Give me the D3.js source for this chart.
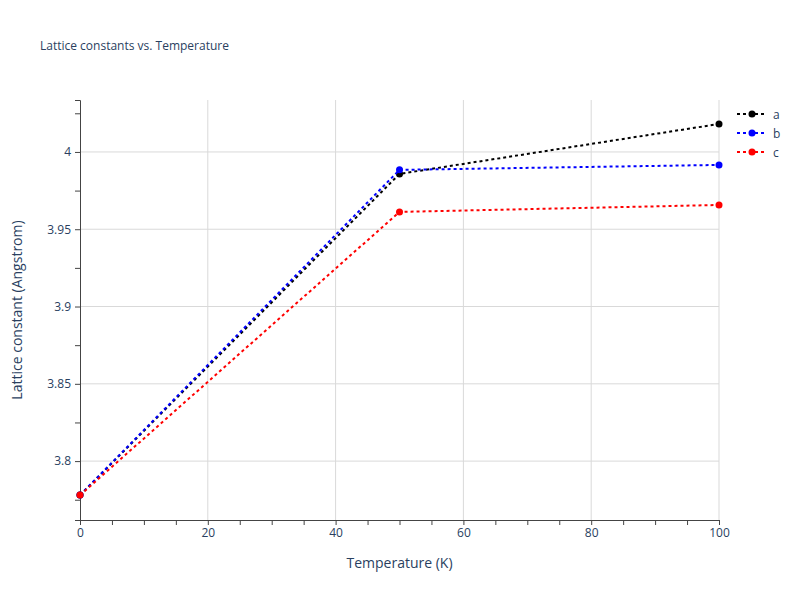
<!DOCTYPE html>
<html>
<head>
<meta charset="utf-8">
<script src="https://cdn.jsdelivr.net/npm/d3@7"></script>
<style>
body { margin: 0; background: #fff; font-family: "Open Sans", sans-serif; }
</style>
</head>
<body>
<div id="chart"></div>
<script>
// data
var temperatures = [0, 50, 100];
var seriesNames = ['a', 'b', 'c'];
var seriesColors = ['black', 'blue', 'red'];
var aValues = [3.778, 3.9858, 4.0181];
var bValues = [3.778, 3.9884, 3.9916];
var cValues = [3.778, 3.9612, 3.9657];
var xTicks = [0, 20, 40, 60, 80, 100];
var yTicks = [3.8, 3.85, 3.9, 3.95, 4];

var allValues = [aValues, bValues, cValues];
var width = 800, height = 600;
var margin = {left: 80, right: 81, top: 100, bottom: 80};
var textColor = '#2a3f5f';

var svg = d3.select('#chart').append('svg')
    .attr('width', width)
    .attr('height', height);

var x = d3.scaleLinear().domain([0, 100]).range([margin.left, width - margin.right]);
var y = d3.scaleLinear().domain([3.7619, 4.0336]).range([height - margin.bottom, margin.top]);

// grid lines
svg.append('g').selectAll('line').data(xTicks.slice(1)).enter().append('line')
    .attr('x1', function (d) { return x(d); }).attr('x2', function (d) { return x(d); })
    .attr('y1', margin.top).attr('y2', height - margin.bottom)
    .attr('stroke', '#d9d9d9');
svg.append('g').selectAll('line').data(yTicks).enter().append('line')
    .attr('x1', margin.left).attr('x2', width - margin.right)
    .attr('y1', function (d) { return y(d); }).attr('y2', function (d) { return y(d); })
    .attr('stroke', '#d9d9d9');

// axes
var xAxis = svg.append('g')
    .attr('transform', 'translate(0,' + (height - margin.bottom) + ')')
    .call(d3.axisBottom(x).tickValues(d3.range(0, 101, 5)).tickSize(5).tickFormat(function (d) { return xTicks.indexOf(d) >= 0 ? d : ''; }));
xAxis.select('.domain').attr('stroke', '#444');
xAxis.selectAll('line').attr('stroke', '#444');
xAxis.selectAll('text').attr('fill', textColor).attr('font-size', 12).attr('font-family', 'Open Sans');

var yAxis = svg.append('g')
    .attr('transform', 'translate(' + margin.left + ',0)')
    .call(d3.axisLeft(y).tickValues(d3.range(3.775, 4.03, 0.025)).tickSize(5).tickFormat(function (d) {
        var r = Math.round(d * 1000) / 1000;
        return yTicks.indexOf(r) >= 0 ? d3.format('~g')(r) : '';
    }));
yAxis.select('.domain').attr('stroke', '#444');
yAxis.selectAll('line').attr('stroke', '#444');
yAxis.selectAll('text').attr('fill', textColor).attr('font-size', 12).attr('font-family', 'Open Sans')
    .attr('x', -9);

// lines and points
var line = d3.line()
    .x(function (d, i) { return x(temperatures[i]); })
    .y(function (d) { return y(d); });

allValues.forEach(function (vals, k) {
    svg.append('path').datum(vals)
        .attr('d', line)
        .attr('fill', 'none')
        .attr('stroke', seriesColors[k])
        .attr('stroke-width', 2)
        .attr('stroke-dasharray', '3,3');
    svg.append('g').selectAll('circle').data(vals).enter().append('circle')
        .attr('cx', function (d, i) { return x(temperatures[i]); })
        .attr('cy', function (d) { return y(d); })
        .attr('r', 3.5)
        .attr('fill', seriesColors[k]);
});

// legend
seriesNames.forEach(function (name, k) {
    var g = svg.append('g').attr('transform', 'translate(737,' + (114 + k * 19) + ')');
    g.append('line').attr('x1', 0).attr('x2', 30)
        .attr('stroke', seriesColors[k]).attr('stroke-width', 2).attr('stroke-dasharray', '3,3');
    g.append('circle').attr('cx', 15).attr('r', 3.5).attr('fill', seriesColors[k]);
    g.append('text').attr('x', 36).attr('y', 4.5).text(name)
        .attr('font-size', 12).attr('fill', textColor);
});

// titles
svg.append('text').attr('x', 40).attr('y', 50).text('Lattice constants vs. Temperature')
    .attr('font-size', 12).attr('fill', textColor);
svg.append('text').attr('x', (margin.left + width - margin.right) / 2).attr('y', 568)
    .attr('text-anchor', 'middle').text('Temperature (K)')
    .attr('font-size', 14).attr('fill', textColor);
svg.append('text')
    .attr('transform', 'translate(22,' + (margin.top + height - margin.bottom) / 2 + ') rotate(-90)')
    .attr('text-anchor', 'middle').text('Lattice constant (Angstrom)')
    .attr('font-size', 14).attr('fill', textColor);
</script>
</body>
</html>
